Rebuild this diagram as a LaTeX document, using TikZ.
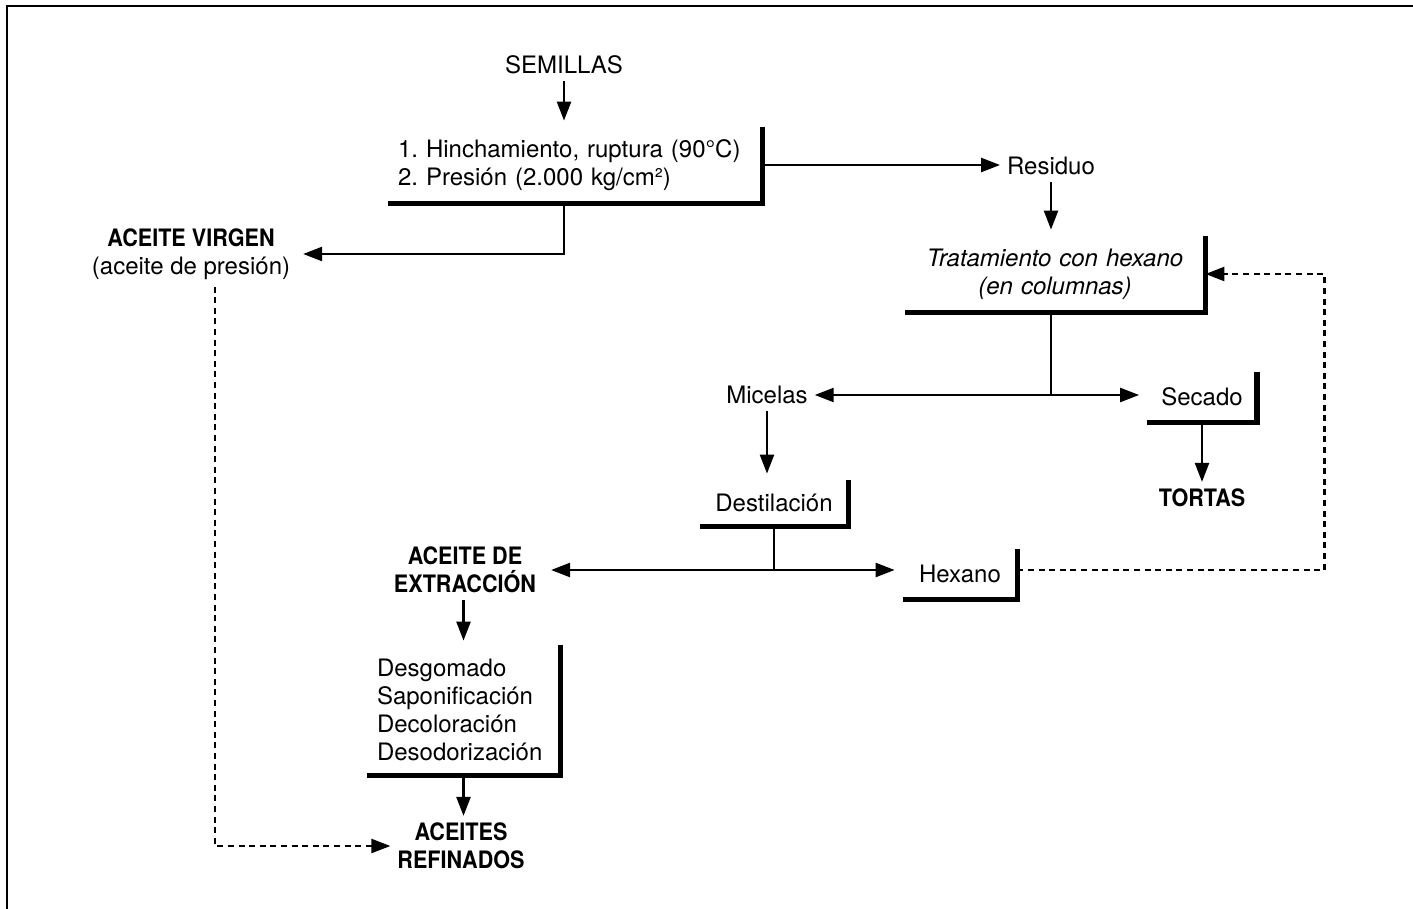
\documentclass[tikz,border=0pt]{standalone}
\usepackage{fontspec}
\setmainfont{TeX Gyre Heros}[BoldFeatures={FakeStretch=0.9}]
\usetikzlibrary{arrows.meta}

\newcommand\flowfont{\fontsize{12}{14}\selectfont}

\tikzset{
    flow/.style={line width=1.2pt, -{Triangle[length=9.5pt,width=7pt]}},
    twoway/.style={line width=1.2pt, {Triangle[length=9.5pt,width=7pt]}-{Triangle[length=9.5pt,width=7pt]}},
    back/.style={line width=1.1pt, dash pattern=on 3pt off 2.3pt, -{Triangle[length=9.5pt,width=7pt]}},
    proc/.style={inner xsep=5pt, inner ysep=0pt},
    bracket/.style={line width=2.6pt},
    bold/.style={font=\flowfont\bfseries, align=center},
}

\begin{document}
\begin{tikzpicture}[x=0.5pt, y=-0.5pt, font=\flowfont]
        \useasboundingbox (0,0) rectangle (1413,909);
        \draw[line width=1pt] (1413,6) -- (7,6) -- (7,909);

        \node (sem) at (564,65) {SEMILLAS};
        \node[proc, text width=177pt, minimum height=38pt, align=left] (pren) at (575,165)
            {1.\ Hinchamiento, ruptura (90°C)\\2.\ Presión (2.000 kg/cm²)};
        \node (res) at (1051,166) {Residuo};
        \node[proc, text width=140pt, minimum height=38pt, align=center, font=\flowfont\itshape] (trat) at (1055,274)
            {Tratamiento con hexano\\(en columnas)};
        \node[align=center] (vir) at (191,254) {\textbf{ACEITE VIRGEN}\\(aceite de presión)};
        \node (mic) at (767,395) {Micelas};
        \node[proc, minimum width=54.5pt, minimum height=25pt] (sec) at (1202,397) {Secado};
        \node[bold] (tor) at (1202,498) {TORTAS};
        \node[proc, minimum width=74pt, minimum height=23pt] (des) at (774,503) {Destilación};
        \node[bold] (ext) at (465,570) {ACEITE DE\\EXTRACCIÓN};
        \node[proc, minimum width=57pt, minimum height=25pt] (hex) at (960,574) {Hexano};
        \node[proc, text width=86.5pt, minimum height=65pt, align=left] (ref) at (463.5,710)
            {Desgomado\\Saponificación\\Decoloración\\Desodorización};
        \node[bold] (fin) at (461,846) {ACEITES\\REFINADOS};

        \draw[bracket] (pren.north east) |- (pren.south west);
        \draw[bracket] (trat.north east) |- (trat.south west);
        \draw[bracket] (sec.north east) |- (sec.south west);
        \draw[bracket] (des.north east) |- (des.south west);
        \draw[bracket] (hex.north east) |- (hex.south west);
        \draw[bracket] (ref.north east) |- (ref.south west);

        \draw[flow, shorten >=3pt] (sem.south) -- (sem.south |- pren.north);
        \draw[flow] (pren.east) -- (res.west |- pren.east);
        \draw[flow, shorten >=3pt] (sem.south |- pren.south) |- (vir.east);
        \draw[back] ([xshift=12pt]vir.south) |- (fin.west);
        \draw[flow, shorten >=3pt] (res.south) -- (res.south |- trat.north);
        \draw[line width=1.2pt] (res.south |- trat.south) -- (res.south |- mic.east);
        \draw[twoway, shorten >=4pt] (mic.east) -- (sec.west |- mic.east);
        \draw[flow] (sec.south) -- (tor.north);
        \draw[flow, shorten >=3pt] (mic.south) -- (mic.south |- des.north);
        \draw[line width=1.2pt] (des.south) -- (des.south |- ext.east);
        \draw[twoway, shorten <=4pt, shorten >=4pt] (ext.east) -- (hex.west |- ext.east);
        \draw[back] (hex.east |- ext.east) -- ++(307,0) |- (trat.east);
        \draw[flow, shorten >=2pt] (ref.north |- ext.south) -- (ref.north);
        \draw[flow] (ref.south) -- (ref.south |- fin.north);
\end{tikzpicture}
\end{document}
